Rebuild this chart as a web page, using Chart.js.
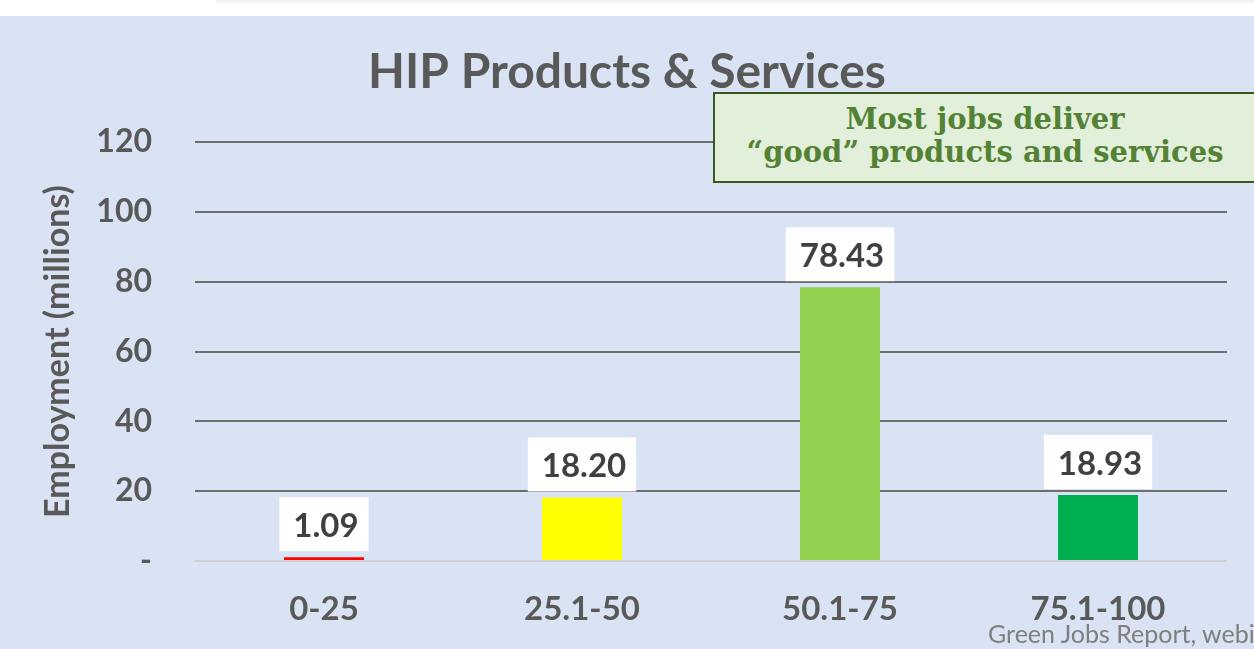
<!DOCTYPE html>
<html>
<head>
<meta charset="utf-8">
<script src="https://cdn.jsdelivr.net/npm/chart.js@4.4.1/dist/chart.umd.min.js"></script>
<style>
  html, body { margin: 0; padding: 0; background: #fff; }
  body { width: 1254px; height: 649px; position: relative; overflow: hidden; }
  #topBar { position: absolute; left: 216px; top: 0; width: 1038px; height: 3px; background: #f2f2f2; }
  #panel { position: absolute; left: 0; top: 16px; width: 1254px; height: 633px; background: #dae3f3; overflow: hidden; }
  #callout {
    position: absolute; left: 713px; top: 76px; width: 580px; height: 91px;
    background: #e2efda; border: 2px solid #385723; box-sizing: border-box;
    font-family: "DejaVu Serif", serif; font-weight: bold; font-size: 29px;
    color: #548235; line-height: 33px; padding-top: 9px;
  }
  #callout div { width: 540px; text-align: center; }
  #source {
    position: absolute; left: 988px; top: 602px; white-space: nowrap;
    font-family: Lato, sans-serif; font-size: 25px; color: #7f7f7f;
  }
</style>
</head>
<body>
<div id="topBar"></div>
<div id="panel">
  <canvas id="chart" width="1254" height="633"></canvas>
  <div id="callout"><div>Most jobs deliver<br>“good” products and services</div></div>
  <div id="source">Green Jobs Report, webinar</div>
</div>
<script>
const categories = ['0-25', '25.1-50', '50.1-75', '75.1-100'];
const employment = [1.09, 18.20, 78.43, 18.93];
const barColors = ['#ff0000', '#ffff00', '#92d050', '#00b050'];
const yTicks = [0, 20, 40, 60, 80, 100, 120];

const fontFamily = 'Lato, "Open Sans", sans-serif';

const titlePlugin = {
  id: 'bigTitle',
  afterDraw(chart) {
    const ctx = chart.ctx;
    ctx.save();
    ctx.font = 'bold 48px ' + fontFamily;
    ctx.fillStyle = '#595959';
    ctx.textAlign = 'center';
    ctx.textBaseline = 'middle';
    ctx.fillText('HIP Products & Services', 627, 57);
    ctx.restore();
  }
};

const valueLabels = {
  id: 'valueLabels',
  afterDatasetsDraw(chart) {
    const ctx = chart.ctx;
    const meta = chart.getDatasetMeta(0);
    ctx.save();
    ctx.font = 'bold 33px ' + fontFamily;
    ctx.textAlign = 'center';
    ctx.textBaseline = 'middle';
    meta.data.forEach((bar, i) => {
      const text = employment[i].toFixed(2);
      const w = ctx.measureText(text).width + 24;
      const h = 54;
      const bottom = bar.y - 6;
      ctx.fillStyle = '#ffffff';
      ctx.fillRect(bar.x - w / 2, bottom - h, w, h);
      ctx.fillStyle = '#404040';
      ctx.fillText(text, bar.x + 2, bottom - h / 2 + 2);
    });
    ctx.restore();
  }
};

new Chart(document.getElementById('chart'), {
  type: 'bar',
  data: {
    labels: categories,
    datasets: [{
      data: employment,
      backgroundColor: barColors,
      barPercentage: 0.31,
      categoryPercentage: 1
    }]
  },
  options: {
    responsive: false,
    animation: false,
    layout: { padding: { top: 126, right: 27, bottom: 0, left: 0 } },
    plugins: {
      legend: { display: false },
      tooltip: { enabled: false }
    },
    scales: {
      x: {
        grid: { display: false, drawTicks: false },
        border: { display: false },
        ticks: {
          padding: 29,
          color: '#595959',
          font: { family: fontFamily, size: 33, weight: 'bold' }
        },
        afterFit(scale) { scale.height = 88; }
      },
      y: {
        min: 0,
        max: 120,
        afterBuildTicks(scale) { scale.ticks = yTicks.map(v => ({ value: v })); },
        grid: {
          drawTicks: false,
          lineWidth: 2,
          color: ctx => ctx.tick && ctx.tick.value === 0 ? '#d0d0d0' : '#6f6f6f'
        },
        border: { display: false },
        ticks: {
          padding: 43,
          color: '#595959',
          font: { family: fontFamily, size: 32, weight: 'bold' },
          callback: v => v === 0 ? '-' : v
        },
        title: {
          display: true,
          text: 'Employment (millions)',
          color: '#595959',
          font: { family: fontFamily, size: 34, weight: 'bold' },
          padding: { top: 38, bottom: 0 }
        },
        afterFit(scale) { scale.width = 195; }
      }
    }
  },
  plugins: [titlePlugin, valueLabels]
});
</script>
</body>
</html>
